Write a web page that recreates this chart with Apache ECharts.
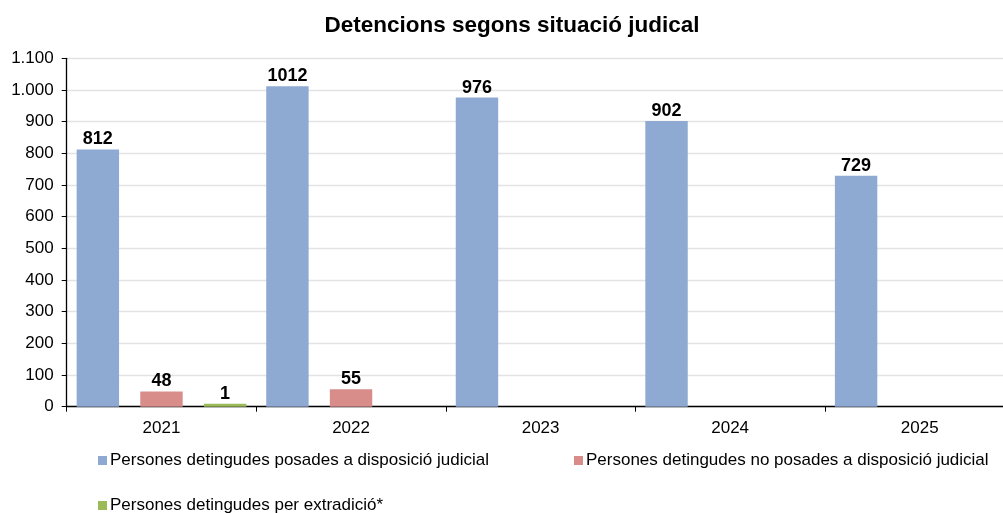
<!DOCTYPE html>
<html><head><meta charset="utf-8">
<script src="https://cdn.jsdelivr.net/npm/echarts@6/dist/echarts.min.js"></script>
<style>html,body{margin:0;padding:0;background:#fff;overflow:hidden}#c{width:1016px;height:513px}</style>
</head><body><div id="c"></div>
<script>
const categories = ['2021','2022','2023','2024','2025'];
const posades = [812, 1012, 976, 902, 729];
const noPosades = [48, 55, null, null, null];
const extradicio = [1, null, null, null, null];
const seriesNames = [
  'Persones detingudes posades a disposició judicial',
  'Persones detingudes no posades a disposició judicial',
  'Persones detingudes per extradició*'
];
const titleText = 'Detencions segons situació judical';

const FONT = '"Liberation Sans", Arial, sans-serif';
const chart = echarts.init(document.getElementById('c'), null, {renderer:'canvas'});
const label = {show:true, position:'top', distance:1, color:'#000', fontWeight:'bold', fontSize:18, fontFamily:FONT};
const legendBase = {itemWidth:9, itemHeight:9, icon:'rect', itemGap:0,
  textStyle:{fontSize:17, color:'#000', fontFamily:FONT, padding:[0,0,0,-2]}};
chart.setOption({
  animation:false,
  title:{text:titleText, left:507, textAlign:'center', top:9,
    textStyle:{fontSize:22.5, fontWeight:'bold', color:'#000', fontFamily:FONT}},
  grid:{left:66.7, right:1.5, top:58.3, bottom:106.3, containLabel:false, outerBoundsMode:'none'},
  legend:[
    Object.assign({data:[seriesNames[0]], left:93, top:447}, legendBase),
    Object.assign({data:[seriesNames[1]], left:569, top:447}, legendBase),
    Object.assign({data:[seriesNames[2]], left:93, top:492}, legendBase)
  ],
  xAxis:{type:'category', data:categories,
    axisLine:{lineStyle:{color:'#000', width:1.3}},
    axisTick:{show:true, length:5, lineStyle:{color:'#000'}},
    axisLabel:{fontSize:17, color:'#000', fontFamily:FONT, margin:13}},
  yAxis:{type:'value', min:0, max:1100, interval:100,
    axisLine:{show:true, lineStyle:{color:'#000', width:1.3}},
    axisTick:{show:true, length:5, lineStyle:{color:'#000'}},
    splitLine:{lineStyle:{color:'#e3e3e3', width:1.3}},
    axisLabel:{fontSize:17, color:'#000', fontFamily:FONT, margin:13,
      formatter:v=>String(v).replace(/\B(?=(\d{3})+(?!\d))/g,'.')}},
  series:[
    {name:seriesNames[0], type:'bar', data:posades, barGap:'50%', barCategoryGap:'10.5%',
      itemStyle:{color:'#8eaad3'}, label:label},
    {name:seriesNames[1], type:'bar', data:noPosades,
      itemStyle:{color:'#d88d8b'}, label:label},
    {name:seriesNames[2], type:'bar', data:extradicio, barMinHeight:3,
      itemStyle:{color:'#9bbb59'}, label:label}
  ]
});
</script></body></html>
